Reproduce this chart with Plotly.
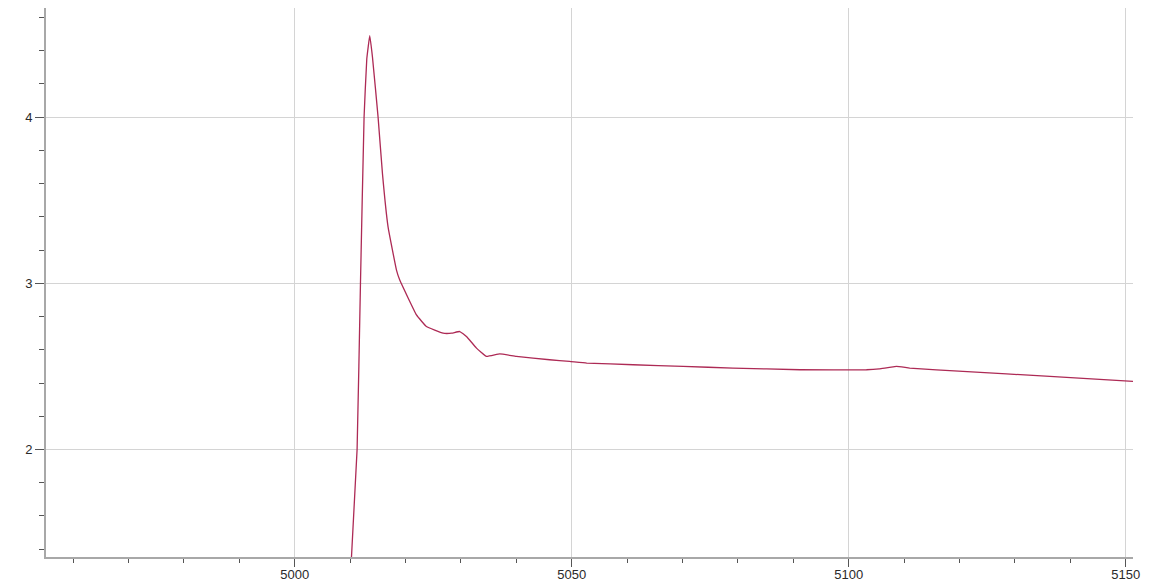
import plotly.graph_objects as go

x_vals = [5010.0, 5011.25, 5011.86, 5012.51, 5013.0, 5013.54, 5014.03, 5015.04, 5015.83,
          5016.84, 5018.36, 5018.95, 5021.97, 5023.77, 5026.77, 5028.34, 5029.78, 5030.99,
          5032.8, 5034.6, 5037.0, 5040.0, 5046.0, 5049.6, 5052.7, 5061.1, 5070.1, 5079.1,
          5091.2, 5103.2, 5105.5, 5108.6, 5111.0, 5120.6, 5136.3, 5151.3]
y_vals = [1.20, 2.00, 3.00, 4.00, 4.35, 4.49, 4.36, 4.00, 3.66,
          3.34, 3.08, 3.02, 2.81, 2.74, 2.70, 2.70, 2.71, 2.68,
          2.61, 2.56, 2.575, 2.56, 2.54, 2.53, 2.52, 2.51, 2.50, 2.49,
          2.48, 2.48, 2.485, 2.50, 2.49, 2.47, 2.44, 2.41]

x_ticks = [5000, 5050, 5100, 5150]
y_ticks = [2, 3, 4]

fig = go.Figure()
fig.add_trace(go.Scatter(x=x_vals, y=y_vals, mode="lines",
                         line=dict(color="#ad2a55", width=1.3, shape="spline", smoothing=0.3),
                         showlegend=False, hoverinfo="skip"))

fig.update_layout(
    width=1150, height=585,
    margin=dict(l=38, r=25, t=0, b=36),
    paper_bgcolor="white", plot_bgcolor="white",
    font=dict(family="Liberation Sans, Arial, sans-serif", size=13, color="#2a2a2a"),
    xaxis=dict(range=[4955.1, 5151.3], tickvals=x_ticks, ticktext=[str(v) for v in x_ticks],
               showgrid=True, gridcolor="#d4d4d4", gridwidth=1,
               showline=True, linecolor="#a8a8a8", linewidth=2,
               ticks="outside", ticklen=8, tickcolor="#555555", tickwidth=1,
               ticklabelstandoff=-4,
               minor=dict(dtick=10, tick0=5000, ticks="outside", ticklen=4, tickcolor="#555555", showgrid=False),
               zeroline=False, automargin=False),
    yaxis=dict(range=[1.353, 4.657], tickvals=y_ticks, ticktext=[str(v) for v in y_ticks],
               showgrid=True, gridcolor="#d4d4d4", gridwidth=1,
               showline=True, linecolor="#a8a8a8", linewidth=2,
               ticks="outside", ticklen=9, tickcolor="#555555", tickwidth=1,
               minor=dict(dtick=0.2, tick0=2, ticks="outside", ticklen=5, tickcolor="#555555", showgrid=False),
               zeroline=False, automargin=False),
)

fig.write_html("out.html")
